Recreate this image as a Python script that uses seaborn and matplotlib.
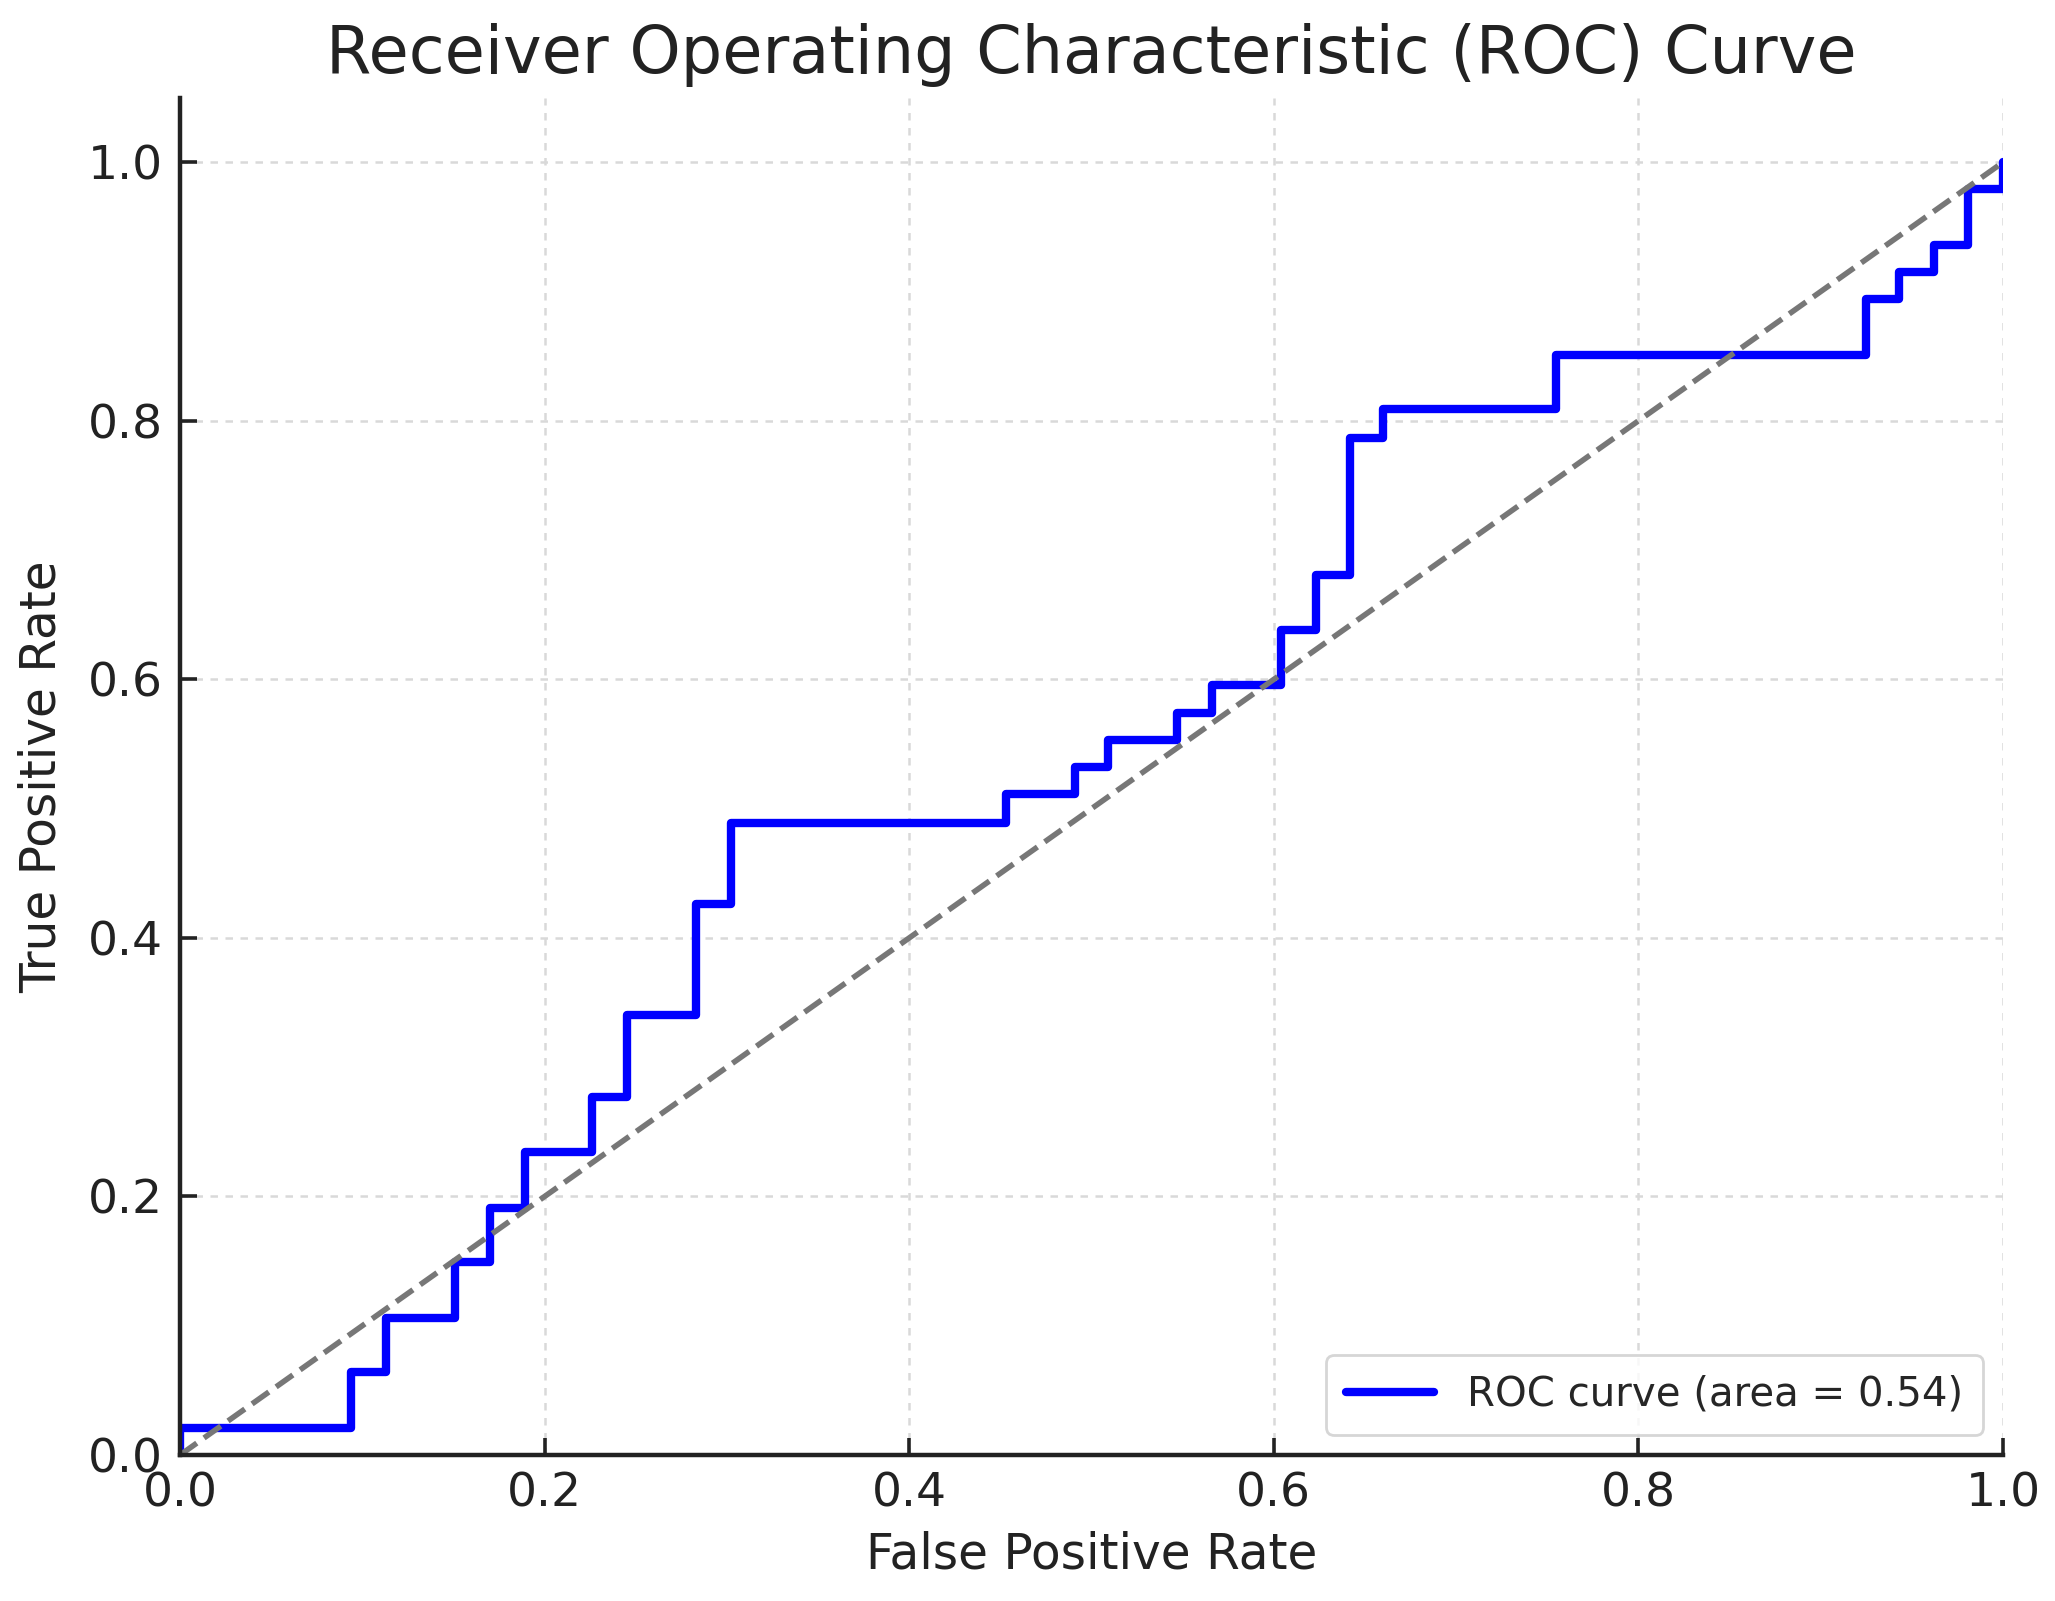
import numpy as np
import pandas as pd
import matplotlib
matplotlib.use("Agg")
import matplotlib.pyplot as plt
import seaborn as sns

# ROC curve vertices (false positive rate, true positive rate)
fpr = [0.0, 0.0, 0.094, 0.094, 0.113, 0.113, 0.151, 0.151, 0.170, 0.170,
       0.189, 0.189, 0.226, 0.226, 0.245, 0.245, 0.283, 0.283, 0.302, 0.302,
       0.453, 0.453, 0.491, 0.491, 0.509, 0.509, 0.547, 0.547, 0.566, 0.566,
       0.604, 0.604, 0.623, 0.623, 0.642, 0.642, 0.660, 0.660, 0.755, 0.755,
       0.925, 0.925, 0.943, 0.943, 0.962, 0.962, 0.981, 0.981, 1.0, 1.0]
tpr = [0.0, 0.021, 0.021, 0.064, 0.064, 0.106, 0.106, 0.149, 0.149, 0.191,
       0.191, 0.234, 0.234, 0.277, 0.277, 0.340, 0.340, 0.426, 0.426, 0.489,
       0.489, 0.511, 0.511, 0.532, 0.532, 0.553, 0.553, 0.574, 0.574, 0.596,
       0.596, 0.638, 0.638, 0.681, 0.681, 0.787, 0.787, 0.809, 0.809, 0.851,
       0.851, 0.894, 0.894, 0.915, 0.915, 0.936, 0.936, 0.979, 0.979, 1.0]
chance_x = [0.0, 1.0]
chance_y = [0.0, 1.0]
auc_value = 0.54

title = "Receiver Operating Characteristic (ROC) Curve"
xlabel = "False Positive Rate"
ylabel = "True Positive Rate"
ticks = [0.0, 0.2, 0.4, 0.6, 0.8, 1.0]

sns.set_theme(style="white")
plt.rcParams['font.family'] = ['DejaVu Sans']

fig = plt.figure(figsize=(10.275, 8.005), dpi=200)
ax = fig.add_axes([0.0876, 0.0912, 0.9747 - 0.0876, 0.939 - 0.0912])

df = pd.DataFrame({"fpr": fpr, "tpr": tpr})
sns.lineplot(data=df, x="fpr", y="tpr", sort=False, estimator=None,
             color="blue", linewidth=3.0,
             label=f"ROC curve (area = {auc_value:.2f})", ax=ax)
sns.lineplot(x=chance_x, y=chance_y, color="#777777", linestyle="--",
             linewidth=2.0, legend=False, ax=ax)

ax.set_xlim(0.0, 1.0)
ax.set_ylim(0.0, 1.05)
ax.set_xticks(ticks)
ax.set_yticks(ticks)
ax.set_xticklabels([f"{t:.1f}" for t in ticks])
ax.set_yticklabels([f"{t:.1f}" for t in ticks])

ax.grid(True, linestyle=(0, (3, 3)), color="#d9d9d9", linewidth=0.9)
for s in ["top", "right"]:
    ax.spines[s].set_visible(False)
for s in ["left", "bottom"]:
    ax.spines[s].set_color("#222222")
    ax.spines[s].set_linewidth(1.6)
ax.tick_params(axis="both", direction="in", length=6, width=1.3,
               colors="#222222", labelsize=17, labelcolor="#222222",
               left=True, bottom=True, pad=6)

ax.set_xlabel(xlabel, fontsize=17.5, color="#222222", labelpad=5)
ax.set_ylabel(ylabel, fontsize=17.5, color="#222222", labelpad=8)
ax.set_title(title, fontsize=23.5, color="#222222", pad=9)

leg = ax.legend(loc="lower right", fontsize=14.5, frameon=True, fancybox=True,
                handlelength=2.2, borderpad=0.5)
leg.get_frame().set_edgecolor("#cccccc")

fig.savefig("out.png", dpi=200)
